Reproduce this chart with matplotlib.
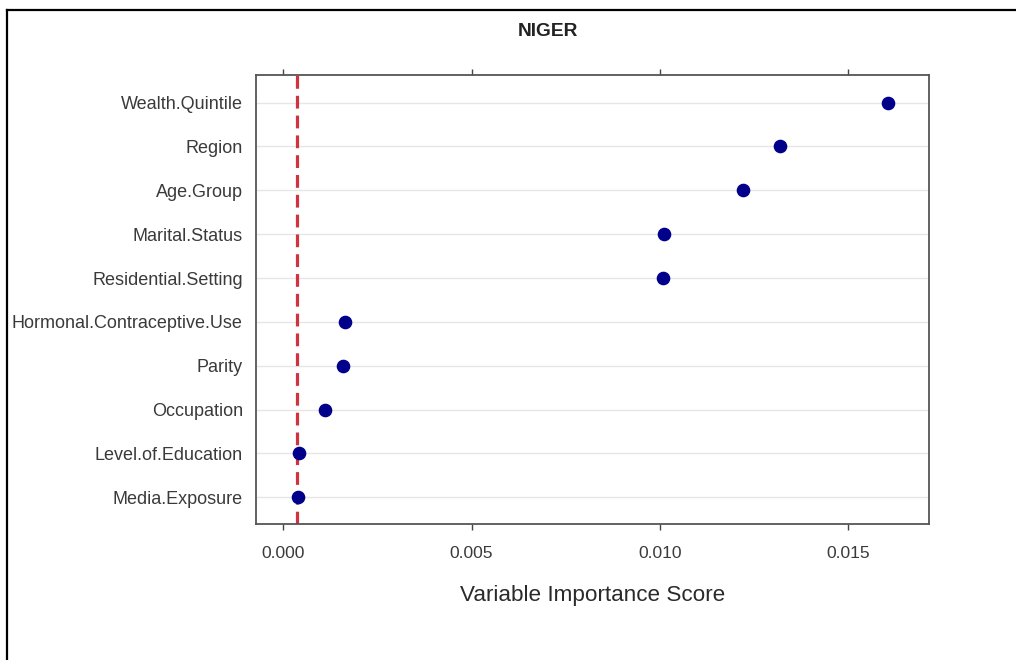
import matplotlib
matplotlib.use("Agg")
import matplotlib.pyplot as plt
from matplotlib.lines import Line2D

plt.rcParams['font.family'] = ['Liberation Sans', 'DejaVu Sans']

variables = ["Wealth.Quintile", "Region", "Age.Group", "Marital.Status",
             "Residential.Setting", "Hormonal.Contraceptive.Use", "Parity",
             "Occupation", "Level.of.Education", "Media.Exposure"]
importance = [0.01605, 0.01319, 0.01221, 0.01012, 0.01008,
              0.00164, 0.00159, 0.00110, 0.00043, 0.00038]
threshold = 0.00036
xticks = [0.000, 0.005, 0.010, 0.015]
xtick_labels = ["0.000", "0.005", "0.010", "0.015"]
title = "NIGER"
xlabel = "Variable Importance Score"

W, H = 1016, 660
fig = plt.figure(figsize=(W / 100, H / 100), dpi=100)
ax = fig.add_axes([256 / W, 136 / H, 673 / W, 449 / H])

n = len(variables)
ypos = list(range(n, 0, -1))

for y in ypos:
    ax.axhline(y, color="#e6e6e6", lw=1.0, zorder=0)

ax.axvline(threshold, color="#cf3340", lw=2.3, linestyle=(0, (4, 2.2)), zorder=2)
ax.plot(importance, ypos, 'o', color="#00008b", markersize=8.8, zorder=3, linestyle='none')

ax.set_xlim(-0.000725, 0.01715)
ax.set_ylim(0.39, n + 0.63)
ax.set_yticks(ypos)
ax.set_yticklabels(variables)
ax.set_xticks(xticks)
ax.set_xticklabels(xtick_labels)

ax.tick_params(axis='y', length=0, pad=9.5, labelsize=13.0, labelcolor="#3a3a3a")
ax.tick_params(axis='x', which='both', direction='out', length=4, width=1, color="#444444",
               pad=11.5, labelsize=12.6, labelcolor="#3a3a3a", top=True, labeltop=False)
for s in ax.spines.values():
    s.set_color("#555555")
    s.set_linewidth(1.3)

fig.text(592.5 / W, 1 - 595 / H, xlabel, ha='center', va='center', fontsize=16.2, color="#2a2a2a")
fig.text(548 / W, 1 - 31 / H, title, ha='center', va='center', fontsize=13.8, fontweight='bold', color="#222222")

# outer frame (top and left edges visible)
fig.add_artist(Line2D([7 / W, 1.0], [1 - 10 / H, 1 - 10 / H], transform=fig.transFigure, color='black', lw=1.6))
fig.add_artist(Line2D([7 / W, 7 / W], [0.0, 1 - 10 / H], transform=fig.transFigure, color='black', lw=1.6))

fig.savefig("out.png", dpi=100, facecolor='white')
